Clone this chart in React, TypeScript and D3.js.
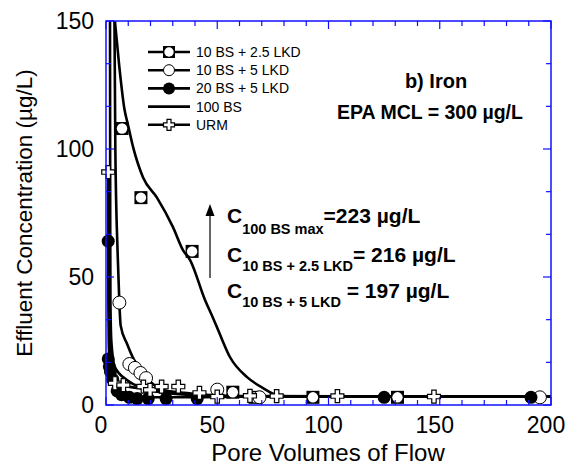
import React from "react";
import * as d3 from "d3";

// ---------- data ----------
const xTickValues = [0, 50, 100, 150, 200];
const yTickValues = [0, 50, 100, 150];

// 10 BS + 2.5 LKD (square with circle)
const bs10lkd25Points: [number, number][] = [
  [7.2, 108], [15.7, 81], [38.7, 60], [57, 5], [67, 3], [93, 3], [131, 3],
];
const bs10lkd25Line: [number, number][] = [
  [4, 150], [6, 132], [8.2, 116], [10, 109], [12.1, 101], [16.6, 89], [22.9, 81],
  [30.1, 69.5], [34.6, 60.5], [37.8, 56.6], [44.5, 41], [48.1, 34], [51, 28],
  [55.7, 18.75], [63.4, 10.9], [70.6, 6.6], [76.9, 3.9], [85, 3.3], [200, 3.3],
];

// 10 BS + 5 LKD (open circle)
const bs10lkd5Points: [number, number][] = [
  [6, 40], [10.5, 16], [13, 14.5], [15.5, 12.5], [18, 10.5], [50, 6], [69, 3], [195, 3],
];
const bs10lkd5Line: [number, number][] = [
  [3.8, 150], [4.2, 100], [5.2, 60], [6, 40], [6.6, 31], [9.4, 24], [12.1, 18.5],
  [16.6, 12.5], [22.9, 7], [30, 5], [40, 4], [55, 3.4], [200, 3.3],
];

// 20 BS + 5 LKD (filled circle)
const bs20lkd5Points: [number, number][] = [
  [1, 64], [1, 18], [1.5, 15], [2, 13], [3, 10], [5, 5.5], [7, 4], [10.5, 3],
  [14, 2.5], [19, 2.5], [27, 2.5], [41, 2.5], [125, 3], [191, 3],
];
const bs20lkd5Line: [number, number][] = [
  [1, 64], [1.1, 40], [1.3, 22], [2, 14.5], [3, 10.5], [5, 6], [8, 4], [12, 3.2],
  [20, 3], [40, 3], [60, 3.2], [200, 3.3],
];

// 100 BS (line only)
const bs100Line: [number, number][] = [
  [1.8, 150], [1.85, 110], [1.9, 70], [2, 40], [2.4, 25], [4, 14.8], [9.4, 9.8],
  [16.6, 6.6], [27.4, 4.7], [40, 3.8], [60, 3.4], [200, 3.3],
];

// URM (plus)
const urmPoints: [number, number][] = [
  [1, 91], [4, 8.5], [7.8, 7.8], [16.8, 7.2], [19.8, 5.9], [25, 7.2], [32.5, 7.2],
  [42, 4.7], [50, 3.3], [64.7, 3.6], [76.7, 3.5], [104, 3.5], [147.4, 3.3],
];
const urmLine: [number, number][] = [
  [1, 91], [1.1, 60], [1.4, 35], [2, 20], [3, 12], [4.5, 9], [8, 7.5], [15, 6.6],
  [25, 5.6], [35, 4.8], [45, 4], [60, 3.5], [200, 3.3],
];

const legendLabels = ["10 BS + 2.5 LKD", "10 BS + 5 LKD", "20 BS + 5 LKD", "100 BS", "URM"];

// ---------- layout ----------
const W = 566;
const H = 472;
const FONT = "'Liberation Sans', Arial, Helvetica, sans-serif";
const AXIS = "#1010ff";

const x = d3.scaleLinear().domain([0, 200]).range([106, 551]);
const y = d3.scaleLinear().domain([0, 150]).range([405, 21]);

const line = d3
  .line<[number, number]>()
  .x((d) => x(d[0]))
  .y((d) => y(d[1]))
  .curve(d3.curveMonotoneX);

const R = 6.5;

function SquareMarker({ cx, cy, s = 13 }: { cx: number; cy: number; s?: number }) {
  return (
    <g>
      <rect x={cx - s / 2} y={cy - s / 2} width={s} height={s} fill="#000" />
      <circle cx={cx} cy={cy} r={s / 2 - 1.3} fill="#fff" />
    </g>
  );
}
function OpenCircle({ cx, cy, r = R }: { cx: number; cy: number; r?: number }) {
  return <circle cx={cx} cy={cy} r={r} fill="#fff" stroke="#000" strokeWidth={1} />;
}
function FilledCircle({ cx, cy, r = R }: { cx: number; cy: number; r?: number }) {
  return <circle cx={cx} cy={cy} r={r} fill="#000" />;
}
function PlusMarker({ cx, cy, a = 6.5, w = 2.2 }: { cx: number; cy: number; a?: number; w?: number }) {
  const d = `M${-w},${-a}H${w}V${-w}H${a}V${w}H${w}V${a}H${-w}V${w}H${-a}V${-w}H${-w}Z`;
  return <path d={d} transform={`translate(${cx},${cy})`} fill="#fff" stroke="#000" strokeWidth={1.2} />;
}

export default function App() {
  const xMinor = d3.range(0, 201, 10);
  const yMinor = d3.range(0, 151, 50 / 3);
  const lines = [bs10lkd25Line, bs10lkd5Line, bs20lkd5Line, bs100Line, urmLine];
  const legendY0 = 52;
  const legendDy = 18.2;

  return (
    <svg
      width={W}
      height={H}
      style={{ position: "fixed", left: 0, top: 0, background: "#fff" }}
      fontFamily={FONT}
    >
      <rect width={W} height={H} fill="#fff" />
      <defs>
        <clipPath id="plotclip">
          <rect x={x(0)} y={y(150)} width={x(200) - x(0)} height={y(0) - y(150)} />
        </clipPath>
      </defs>

      {/* data lines */}
      <g clipPath="url(#plotclip)">
        {lines.map((l, i) => (
          <path key={i} d={line(l) || ""} fill="none" stroke="#000" strokeWidth={2.6} />
        ))}
      </g>

      {/* markers */}
      <g>
        {bs10lkd25Points.map((p, i) => (
          <SquareMarker key={"s" + i} cx={x(p[0])} cy={y(p[1])} />
        ))}
        {bs10lkd5Points.map((p, i) => (
          <OpenCircle key={"o" + i} cx={x(p[0])} cy={y(p[1])} />
        ))}
        {bs20lkd5Points.map((p, i) => (
          <FilledCircle key={"f" + i} cx={x(p[0])} cy={y(p[1])} />
        ))}
        {urmPoints.map((p, i) => (
          <PlusMarker key={"p" + i} cx={x(p[0])} cy={y(p[1])} />
        ))}
      </g>

      {/* frame and ticks */}
      <rect
        x={x(0)}
        y={y(150)}
        width={x(200) - x(0)}
        height={y(0) - y(150)}
        fill="none"
        stroke={AXIS}
        strokeWidth={1.5}
      />
      {xMinor.map((v) => {
        const len = v % 50 === 0 ? 8 : 5;
        return (
          <g key={"xt" + v}>
            <line x1={x(v)} x2={x(v)} y1={y(0)} y2={y(0) - len} stroke={AXIS} strokeWidth={1.2} />
            <line x1={x(v)} x2={x(v)} y1={y(150)} y2={y(150) + len} stroke={AXIS} strokeWidth={1.2} />
          </g>
        );
      })}
      {yMinor.map((v, i) => {
        const len = i % 3 === 0 ? 8 : 5;
        return (
          <g key={"yt" + i}>
            <line x1={x(0)} x2={x(0) + len} y1={y(v)} y2={y(v)} stroke={AXIS} strokeWidth={1.2} />
            <line x1={x(200)} x2={x(200) - len} y1={y(v)} y2={y(v)} stroke={AXIS} strokeWidth={1.2} />
          </g>
        );
      })}

      {/* tick labels */}
      {xTickValues.map((v) => (
        <text key={"xl" + v} x={x(v) - 5} y={433} fontSize={23} textAnchor="middle" fill="#000">
          {v}
        </text>
      ))}
      {yTickValues.map((v) => (
        <text key={"yl" + v} x={94} y={y(v) + 8} fontSize={23} textAnchor="end" fill="#000">
          {v}
        </text>
      ))}

      {/* axis titles */}
      <text x={328} y={461} fontSize={24} textAnchor="middle" fill="#000">
        Pore Volumes of Flow
      </text>
      <text
        transform={`translate(32,${(y(0) + y(150)) / 2}) rotate(-90)`}
        fontSize={22.5}
        textAnchor="middle"
        fill="#000"
      >
        Effluent Concentration (µg/L)
      </text>

      {/* legend */}
      {legendLabels.map((lab, i) => {
        const cy = legendY0 + i * legendDy;
        return (
          <g key={"lg" + i}>
            <line x1={148} x2={190} y1={cy} y2={cy} stroke="#000" strokeWidth={2.6} />
            {i === 0 && <SquareMarker cx={169} cy={cy} s={12} />}
            {i === 1 && <OpenCircle cx={169} cy={cy} r={5.5} />}
            {i === 2 && <FilledCircle cx={169} cy={cy} r={6} />}
            {i === 4 && <PlusMarker cx={169} cy={cy} a={5.5} w={2} />}
            <text x={196} y={cy + 5} fontSize={14} fill="#000">
              {lab}
            </text>
          </g>
        );
      })}

      {/* annotations */}
      <text x={436} y={88} fontSize={20} fontWeight="bold" textAnchor="middle" fill="#000">
        b) Iron
      </text>
      <text x={430} y={119} fontSize={19.5} fontWeight="bold" textAnchor="middle" fill="#000">
        EPA MCL = 300 µg/L
      </text>

      <line x1={210} x2={210} y1={278} y2={214} stroke="#333" strokeWidth={1.5} />
      <path d="M210,204 L205.5,216 L214.5,216 Z" fill="#000" />

      <text x={227} y={223} fontSize={21} fontWeight="bold" fill="#000">
        C
        <tspan fontSize={14.5} dy={11}>100 BS max</tspan>
        <tspan dy={-11}>=223 µg/L</tspan>
      </text>
      <text x={227} y={262} fontSize={21} fontWeight="bold" fill="#000">
        C
        <tspan fontSize={14.5} dy={9}>10 BS + 2.5 LKD</tspan>
        <tspan dy={-9}>= 216 µg/L</tspan>
      </text>
      <text x={227} y={298} fontSize={21} fontWeight="bold" fill="#000">
        C
        <tspan fontSize={14.5} dy={9}>10 BS + 5 LKD</tspan>
        <tspan dy={-9}>{"\u00a0= 197 µg/L"}</tspan>
      </text>
    </svg>
  );
}
